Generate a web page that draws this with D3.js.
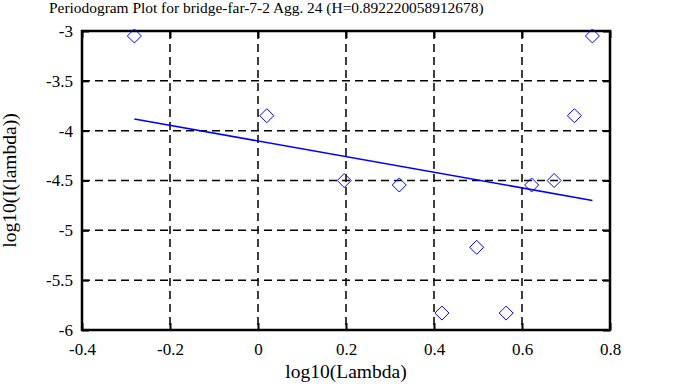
<!DOCTYPE html>
<html>
<head>
<meta charset="utf-8">
<script src="https://cdn.jsdelivr.net/npm/d3@7"></script>
<style>
	body { margin: 0; background: #fff; }
</style>
</head>
<body>
<div id="chart"></div>
<script>
// periodogram points: log10(lambda) vs log10(I(lambda))
var log_lambda = [-0.281, 0.020, 0.196, 0.321, 0.418, 0.497, 0.564, 0.622, 0.673, 0.719, 0.760];
var log_power = [-3.05, -3.85, -4.50, -4.545, -5.83, -5.17, -5.83, -4.545, -4.50, -3.85, -3.05];
// fitted regression line end points
var fit_x = [-0.281, 0.760];
var fit_y = [-3.883, -4.700];
var x_ticks = [-0.4, -0.2, 0, 0.2, 0.4, 0.6, 0.8];
var y_ticks = [-3, -3.5, -4, -4.5, -5, -5.5, -6];
var title = 'Periodogram Plot for bridge-far-7-2 Agg. 24 (H=0.892220058912678)';

var W = 678, H = 387,
	pad = [31, 68, 57, 82], // top right bottom left
	serif = '"Liberation Serif", serif';

var svg = d3.select('#chart').append('svg')
	.attr('width', W).attr('height', H);

var x_scale = d3.scaleLinear().domain([-0.4, 0.8]).range([pad[3], W - pad[1]]),
	y_scale = d3.scaleLinear().domain([-6, -3]).range([H - pad[2], pad[0]]);

var x0 = x_scale.range()[0], x1 = x_scale.range()[1],
	y0 = y_scale.range()[1], y1 = y_scale.range()[0];

// dashed grid, only inner lines
var grid = svg.append('g').attr('class', 'grid');
grid.selectAll('line.vx').data(x_ticks.slice(1, -1)).enter().append('line')
	.attr('x1', function (d) {return x_scale(d);}).attr('x2', function (d) {return x_scale(d);})
	.attr('y1', y0).attr('y2', y1)
	.attr('stroke', '#000').attr('stroke-width', 1.5).attr('stroke-dasharray', '8,5');
grid.selectAll('line.hy').data(y_ticks.slice(1, -1)).enter().append('line')
	.attr('y1', function (d) {return y_scale(d);}).attr('y2', function (d) {return y_scale(d);})
	.attr('x1', x0).attr('x2', x1)
	.attr('stroke', '#000').attr('stroke-width', 1.5).attr('stroke-dasharray', '8,5');

// plain hyphen minus like the original
function fmt(d) {return String(+d.toFixed(1));}

// axes: ticks inside on all four sides
var x_axis = d3.axisBottom(x_scale).tickValues(x_ticks).tickSize(-7).tickPadding(13).tickFormat(fmt),
	y_axis = d3.axisLeft(y_scale).tickValues(y_ticks).tickSize(-7).tickPadding(9).tickFormat(fmt),
	x_top = d3.axisTop(x_scale).tickValues(x_ticks).tickSize(-7).tickFormat(''),
	y_right = d3.axisRight(y_scale).tickValues(y_ticks).tickSize(-7).tickFormat('');

function styleAxis(g) {
	g.attr('font-family', null).attr('font-size', null);
	g.select('.domain').remove();
	g.selectAll('.tick line').attr('stroke', '#000').attr('stroke-width', 2);
	g.selectAll('.tick text').attr('fill', '#000')
		.style('font-family', serif).style('font-size', '17px');
}

svg.append('g').attr('transform', 'translate(0,' + y1 + ')').call(x_axis).call(styleAxis);
svg.append('g').attr('transform', 'translate(' + x0 + ',0)').call(y_axis).call(styleAxis);
svg.append('g').attr('transform', 'translate(0,' + y0 + ')').call(x_top).call(styleAxis);
svg.append('g').attr('transform', 'translate(' + x1 + ',0)').call(y_right).call(styleAxis);

// frame
svg.append('rect')
	.attr('x', x0).attr('y', y0).attr('width', x1 - x0).attr('height', y1 - y0)
	.attr('fill', 'none').attr('stroke', '#000').attr('stroke-width', 2.5);

// regression line
svg.append('line')
	.attr('x1', x_scale(fit_x[0])).attr('y1', y_scale(fit_y[0]))
	.attr('x2', x_scale(fit_x[1])).attr('y2', y_scale(fit_y[1]))
	.attr('stroke', '#0000ff').attr('stroke-width', 1.6);

// diamond markers
var r = 7;
svg.append('g').selectAll('path').data(log_lambda).enter().append('path')
	.attr('d', function (d, i) {
		var cx = x_scale(d), cy = y_scale(log_power[i]);
		return 'M' + cx + ',' + (cy - r) + 'L' + (cx + r) + ',' + cy + 'L' + cx + ',' + (cy + r) + 'L' + (cx - r) + ',' + cy + 'Z';
	})
	.attr('fill', 'none').attr('stroke', '#0000ff').attr('stroke-width', 1);

// labels
var t = svg.append('text').attr('x', 49).attr('y', 13)
	.style('font-family', serif).style('font-size', '16px').text(title);
// title spans ~435px in the original
var tw = t.node().getComputedTextLength();
if (tw > 0) t.style('font-size', (16 * 435 / tw).toFixed(2) + 'px');

svg.append('text').attr('x', (x0 + x1) / 2).attr('y', 378).attr('text-anchor', 'middle')
	.style('font-family', serif).style('font-size', '19.5px').text('log10(Lambda)');
svg.append('text').attr('transform', 'translate(16,' + ((y0 + y1) / 2) + ') rotate(-90)')
	.attr('text-anchor', 'middle')
	.style('font-family', serif).style('font-size', '19.5px').text('log10(I(lambda))');
</script>
</body>
</html>
